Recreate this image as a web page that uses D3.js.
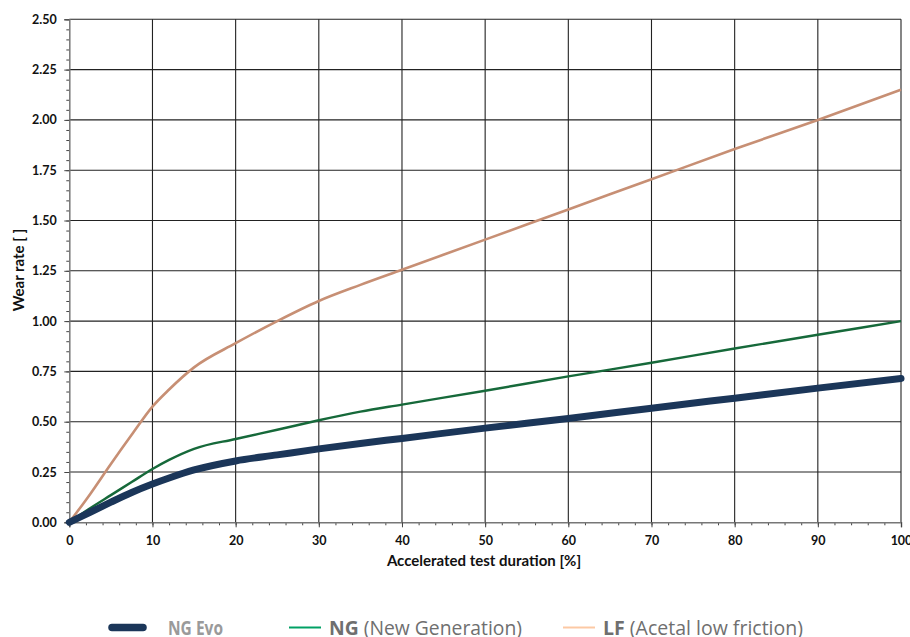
<!DOCTYPE html>
<html>
  <head>
    <meta http-equiv="content-type" content="text/html; charset=UTF-8">
    <title>wear rate</title>
    <script type='text/javascript' src='https://d3js.org/d3.v7.min.js'></script>
    <style type='text/css'>
      body { margin: 0; background-color: white; }
      .tick text { font-family: Lato, "Open Sans", sans-serif; font-weight: bold; font-size: 12.5px; fill: #111; }
    </style>
  </head>
  <body>
    <script type='text/javascript'>
    // values
    var duration = [0, 2.5, 5, 7.5, 10, 12, 15, 20, 25, 30, 35, 40, 50, 60, 70, 80, 90, 100];
    var ngEvo = [0, 0.05, 0.1, 0.148, 0.19, 0.22, 0.26, 0.305, 0.335, 0.365, 0.392, 0.417, 0.468, 0.516, 0.567, 0.617, 0.667, 0.715];
    var ng    = [0, 0.07, 0.135, 0.2, 0.265, 0.31, 0.365, 0.414, 0.46, 0.507, 0.55, 0.585, 0.654, 0.725, 0.793, 0.864, 0.932, 1.0];
    var lf    = [0, 0.14, 0.29, 0.435, 0.575, 0.66, 0.77, 0.89, 1.0, 1.1, 1.18, 1.255, 1.405, 1.555, 1.705, 1.855, 2.0, 2.15];
    var xTicks = [0, 10, 20, 30, 40, 50, 60, 70, 80, 90, 100];
    var yTicks = [0, 0.25, 0.5, 0.75, 1, 1.25, 1.5, 1.75, 2, 2.25, 2.5];

    var w = 910, h = 637;
    var mLeft = 69.3, mRight = 901, mTop = 19.3, mBottom = 522.3;

    var svg = d3.select("body").append("svg")
      .attr("width", w).attr("height", h);

    var x = d3.scaleLinear().domain([0, 100]).range([mLeft, mRight]);
    var y = d3.scaleLinear().domain([0, 2.5]).range([mBottom, mTop]);

    // grid
    svg.append("g").selectAll("line").data(xTicks.slice(1)).enter().append("line")
      .attr("x1", d => x(d)).attr("x2", d => x(d))
      .attr("y1", mTop).attr("y2", mBottom)
      .style("stroke", "#222").style("stroke-width", 1.1);
    svg.append("g").selectAll("line").data(yTicks.slice(1)).enter().append("line")
      .attr("x1", mLeft).attr("x2", mRight)
      .attr("y1", d => y(d)).attr("y2", d => y(d))
      .style("stroke", "#222").style("stroke-width", 1.1);

    // minor ticks
    svg.append("g")
      .attr("transform", "translate(0," + mBottom + ")")
      .call(d3.axisBottom(x).ticks(50).tickSize(3).tickFormat(""))
      .call(g => g.selectAll("line").style("stroke", "#444"))
      .call(g => g.select(".domain").remove());
    svg.append("g")
      .attr("transform", "translate(" + mLeft + ",0)")
      .call(d3.axisLeft(y).ticks(50).tickSize(3).tickFormat(""))
      .call(g => g.selectAll("line").style("stroke", "#444"))
      .call(g => g.select(".domain").remove());

    // major axes
    svg.append("g")
      .attr("transform", "translate(0," + mBottom + ")")
      .call(d3.axisBottom(x).tickValues(xTicks).tickSize(5).tickPadding(9).tickFormat(d3.format("d")))
      .call(g => g.selectAll("line").style("stroke", "#444"))
      .call(g => g.select(".domain").style("stroke", "#777").style("stroke-width", 1.5));
    svg.append("g")
      .attr("transform", "translate(" + mLeft + ",0)")
      .call(d3.axisLeft(y).tickValues(yTicks).tickSize(5).tickPadding(7.5).tickFormat(d3.format(".2f")))
      .call(g => g.selectAll("line").style("stroke", "#444"))
      .call(g => g.select(".domain").style("stroke", "#777").style("stroke-width", 1.5));

    // axis titles
    svg.append("text")
      .attr("x", 484).attr("y", 566)
      .attr("text-anchor", "middle")
      .style("font-family", "Lato, 'Open Sans', sans-serif").style("font-weight", "bold")
      .style("font-size", "15px").style("fill", "#111")
      .text("Accelerated test duration [%]");
    svg.append("text")
      .attr("transform", "translate(24,270) rotate(-90)")
      .attr("text-anchor", "middle")
      .style("font-family", "Lato, 'Open Sans', sans-serif").style("font-weight", "bold")
      .style("font-size", "15px").style("fill", "#111")
      .text("Wear rate [ ]");

    // series
    var line = d3.line()
      .x((d, i) => x(duration[i]))
      .y(d => y(d))
      .curve(d3.curveMonotoneX);

    svg.append("path").datum(lf).attr("d", line)
      .style("fill", "none").style("stroke", "#c78f74").style("stroke-width", 2.6);
    svg.append("path").datum(ng).attr("d", line)
      .style("fill", "none").style("stroke", "#16693a").style("stroke-width", 2.4);
    svg.append("path").datum(ngEvo).attr("d", line)
      .style("fill", "none").style("stroke", "#1b3659").style("stroke-width", 7)
      .style("stroke-linecap", "round");

    // legend
    var legend = svg.append("g")
      .style("font-family", "'Open Sans', Lato, sans-serif")
      .style("font-size", "20px");

    legend.append("line").attr("x1", 112).attr("x2", 143).attr("y1", 627.5).attr("y2", 627.5)
      .style("stroke", "#1b3659").style("stroke-width", 7.5).style("stroke-linecap", "round");
    legend.append("text").attr("x", 168).attr("y", 634.5)
      .attr("textLength", 55).attr("lengthAdjust", "spacingAndGlyphs")
      .style("fill", "#9a9a9a").style("font-weight", "bold")
      .text("NG Evo");

    legend.append("line").attr("x1", 289).attr("x2", 321).attr("y1", 627.5).attr("y2", 627.5)
      .style("stroke", "#00a064").style("stroke-width", 2);
    var t2 = legend.append("text").attr("x", 329).attr("y", 634.5).style("fill", "#6f6f6f")
      .attr("textLength", 193).attr("lengthAdjust", "spacingAndGlyphs");
    t2.append("tspan").style("font-weight", "bold").text("NG");
    t2.append("tspan").text(" (New Generation)");

    legend.append("line").attr("x1", 563).attr("x2", 595).attr("y1", 627.5).attr("y2", 627.5)
      .style("stroke", "#fcc9a4").style("stroke-width", 2);
    var t3 = legend.append("text").attr("x", 603).attr("y", 634.5).style("fill", "#6f6f6f")
      .attr("textLength", 200).attr("lengthAdjust", "spacingAndGlyphs");
    t3.append("tspan").style("font-weight", "bold").text("LF");
    t3.append("tspan").text(" (Acetal low friction)");
    </script>
  </body>
</html>
